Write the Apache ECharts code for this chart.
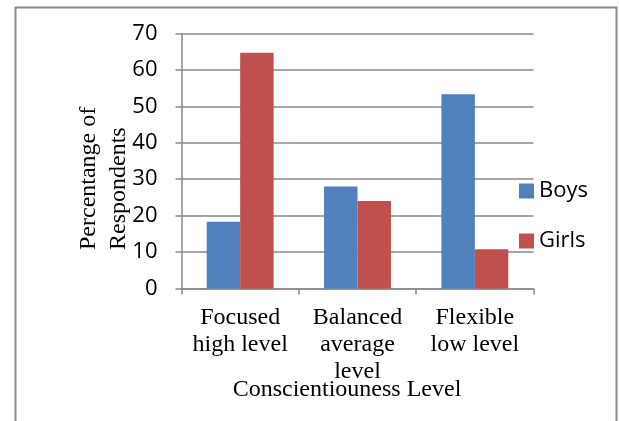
<!DOCTYPE html>
<html>
<head>
<meta charset="utf-8">
<script src="https://cdn.jsdelivr.net/npm/echarts@6/dist/echarts.min.js"></script>
<style>
  html, body { margin: 0; padding: 0; background: #fff; }
  #chart { width: 619px; height: 421px; }
</style>
</head>
<body>
<div id="chart"></div>
<script>
// Conscientiousness level of respondents, by gender
const categories = ['Focused\nhigh level', 'Balanced\naverage\nlevel', 'Flexible\nlow level'];
const boys = [18.3, 28, 53.3];
const girls = [64.7, 24, 10.8];
const seriesNames = ['Boys', 'Girls'];
const yTicks = { min: 0, max: 70, interval: 10 };
const yTitle = 'Percentange of\nRespondents';
const xTitle = 'Conscientiouness Level';

const lineGray = '#8a8a8a';
const serif = '"Liberation Serif", "Times New Roman", serif';
const sans = '"Open Sans", "Noto Sans", sans-serif';

const chart = echarts.init(document.getElementById('chart'), null, { renderer: 'canvas' });

chart.setOption({
  animation: false,
  backgroundColor: '#ffffff',
  grid: { left: 181.5, right: 85.5, top: 33.5, bottom: 132.5, containLabel: false },
  legend: {
    orient: 'vertical',
    left: 519,
    top: 180,
    padding: 0,
    itemWidth: 15,
    itemHeight: 15,
    itemGap: 28,
    icon: 'rect',
    data: seriesNames,
    textStyle: { fontFamily: sans, fontSize: 22, color: '#000', lineHeight: 22 }
  },
  xAxis: {
    type: 'category',
    data: categories,
    axisLine: { show: true, lineStyle: { color: lineGray, width: 1.5 } },
    axisTick: { show: true, length: 6, inside: false, alignWithLabel: false, lineStyle: { color: lineGray, width: 1.5 } },
    axisLabel: {
      interval: 0,
      margin: 16,
      fontFamily: serif,
      fontSize: 24,
      lineHeight: 27,
      color: '#000'
    },
    splitLine: { show: false }
  },
  yAxis: {
    type: 'value',
    min: yTicks.min,
    max: yTicks.max,
    interval: yTicks.interval,
    axisLine: { show: true, lineStyle: { color: lineGray, width: 1.5 } },
    axisTick: { show: true, length: 6, inside: false, lineStyle: { color: lineGray, width: 1.5 } },
    axisLabel: { margin: 24, fontFamily: sans, fontSize: 22, color: '#000' },
    splitLine: { show: true, lineStyle: { color: lineGray, width: 1.5 } }
  },
  series: [
    {
      name: seriesNames[0],
      type: 'bar',
      data: boys,
      itemStyle: { color: '#4f81bd' },
      barGap: '0%',
      barCategoryGap: '43%'
    },
    {
      name: seriesNames[1],
      type: 'bar',
      data: girls,
      itemStyle: { color: '#c0504d' },
      barGap: '0%',
      barCategoryGap: '43%'
    }
  ],
  graphic: [
    {
      type: 'rect',
      silent: true,
      z: -1,
      shape: { x: 15.5, y: 7.5, width: 601, height: 440 },
      style: { fill: 'none', stroke: lineGray, lineWidth: 2 }
    },
    {
      type: 'text',
      x: 103.5,
      y: 250,
      rotation: Math.PI / 2,
      style: {
        text: yTitle,
        fontFamily: serif,
        fontSize: 24,
        lineHeight: 30,
        fill: '#000',
        align: 'left',
        verticalAlign: 'middle'
      }
    },
    {
      type: 'text',
      x: 347,
      y: 390,
      style: {
        text: xTitle,
        fontFamily: serif,
        fontSize: 24,
        fill: '#000',
        align: 'center',
        verticalAlign: 'middle'
      }
    }
  ]
});
</script>
</body>
</html>
